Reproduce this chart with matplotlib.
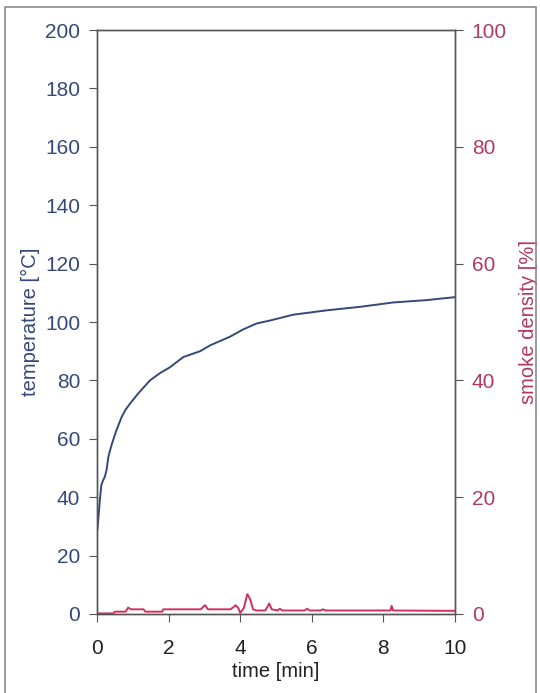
import matplotlib.pyplot as plt
from matplotlib.patches import Rectangle

plt.rcParams['font.family'] = ['Liberation Sans', 'DejaVu Sans']

# temperature curve [min, degC]
temp_t = [0.0, 0.02, 0.08, 0.12, 0.16, 0.22, 0.27, 0.32, 0.41, 0.53, 0.69, 0.80,
          0.92, 1.15, 1.48, 1.76, 2.04, 2.41, 2.88, 3.16, 3.72, 4.09, 4.46, 4.83,
          5.48, 6.42, 7.35, 8.28, 9.21, 9.60, 9.91, 10.0]
temp_v = [28.0, 30.0, 39.0, 44.0, 45.5, 47.0, 49.5, 54.0, 58.0, 62.5, 67.5, 70.0,
          72.0, 75.5, 80.0, 82.5, 84.5, 88.0, 90.0, 92.0, 95.0, 97.5, 99.5, 100.5,
          102.5, 104.0, 105.2, 106.7, 107.5, 108.0, 108.4, 108.5]

# smoke density [min, %]
smoke_t = [0.0, 0.45, 0.50, 0.80, 0.87, 0.95, 1.30, 1.35, 1.82, 1.85, 2.90, 2.98,
           3.02, 3.10, 3.72, 3.80, 3.87, 3.95, 4.00, 4.10, 4.20, 4.28, 4.36, 4.45,
           4.70, 4.78, 4.81, 4.88, 5.05, 5.11, 5.18, 5.80, 5.87, 5.94, 6.25,
           6.31, 6.38, 8.20, 8.23, 8.27, 9.50, 10.0]
smoke_v = [0.1, 0.1, 0.4, 0.4, 1.1, 0.8, 0.8, 0.4, 0.4, 0.8, 0.8, 1.3,
           1.5, 0.8, 0.8, 1.1, 1.5, 1.0, 0.2, 1.0, 3.4, 2.5, 0.8, 0.6,
           0.6, 1.4, 1.8, 0.8, 0.6, 0.9, 0.6, 0.6, 0.9, 0.6, 0.6,
           0.8, 0.6, 0.6, 1.4, 0.6, 0.55, 0.55]

blue = '#34497a'
red = '#b03a60'
spine_col = '#555555'

fig = plt.figure(figsize=(5.4, 6.93), dpi=100)
fig.patches.append(Rectangle((0.009, -0.01), 0.984, 1.0, transform=fig.transFigure,
                             fill=False, edgecolor='#8a8a8a', linewidth=1.2))

ax = fig.add_axes([0.1796, 0.114, 0.663, 0.8427])
ax2 = ax.twinx()

ax.plot(temp_t, temp_v, color=blue, linewidth=1.4)
ax2.plot(smoke_t, smoke_v, color='#d0305e', linewidth=1.4)

ax.set_xlim(0, 10)
ax.set_ylim(0, 200)
ax2.set_ylim(0, 100)
ax.set_xticks(range(0, 11, 2))
ax.set_yticks(range(0, 201, 20))
ax2.set_yticks(range(0, 101, 20))

ax.set_xlabel('time [min]', fontsize=14.5, color='#222222', labelpad=3)
ax.set_ylabel('temperature [°C]', fontsize=14.5, color=blue, labelpad=4)
ax2.set_ylabel('smoke density [%]', fontsize=14.5, color=red, labelpad=9)

ax.tick_params(axis='x', labelsize=15, colors=spine_col, labelcolor='#222222',
               length=6, pad=12, direction='out')
ax.tick_params(axis='y', labelsize=15, colors=spine_col, labelcolor=blue,
               length=6, pad=6, direction='out')
ax2.tick_params(axis='y', labelsize=15, colors=spine_col, labelcolor=red,
                length=6, pad=6, direction='out')

for a in (ax, ax2):
    for s in a.spines.values():
        s.set_color(spine_col)
        s.set_linewidth(1.0)

fig.savefig('out.png', dpi=100)
